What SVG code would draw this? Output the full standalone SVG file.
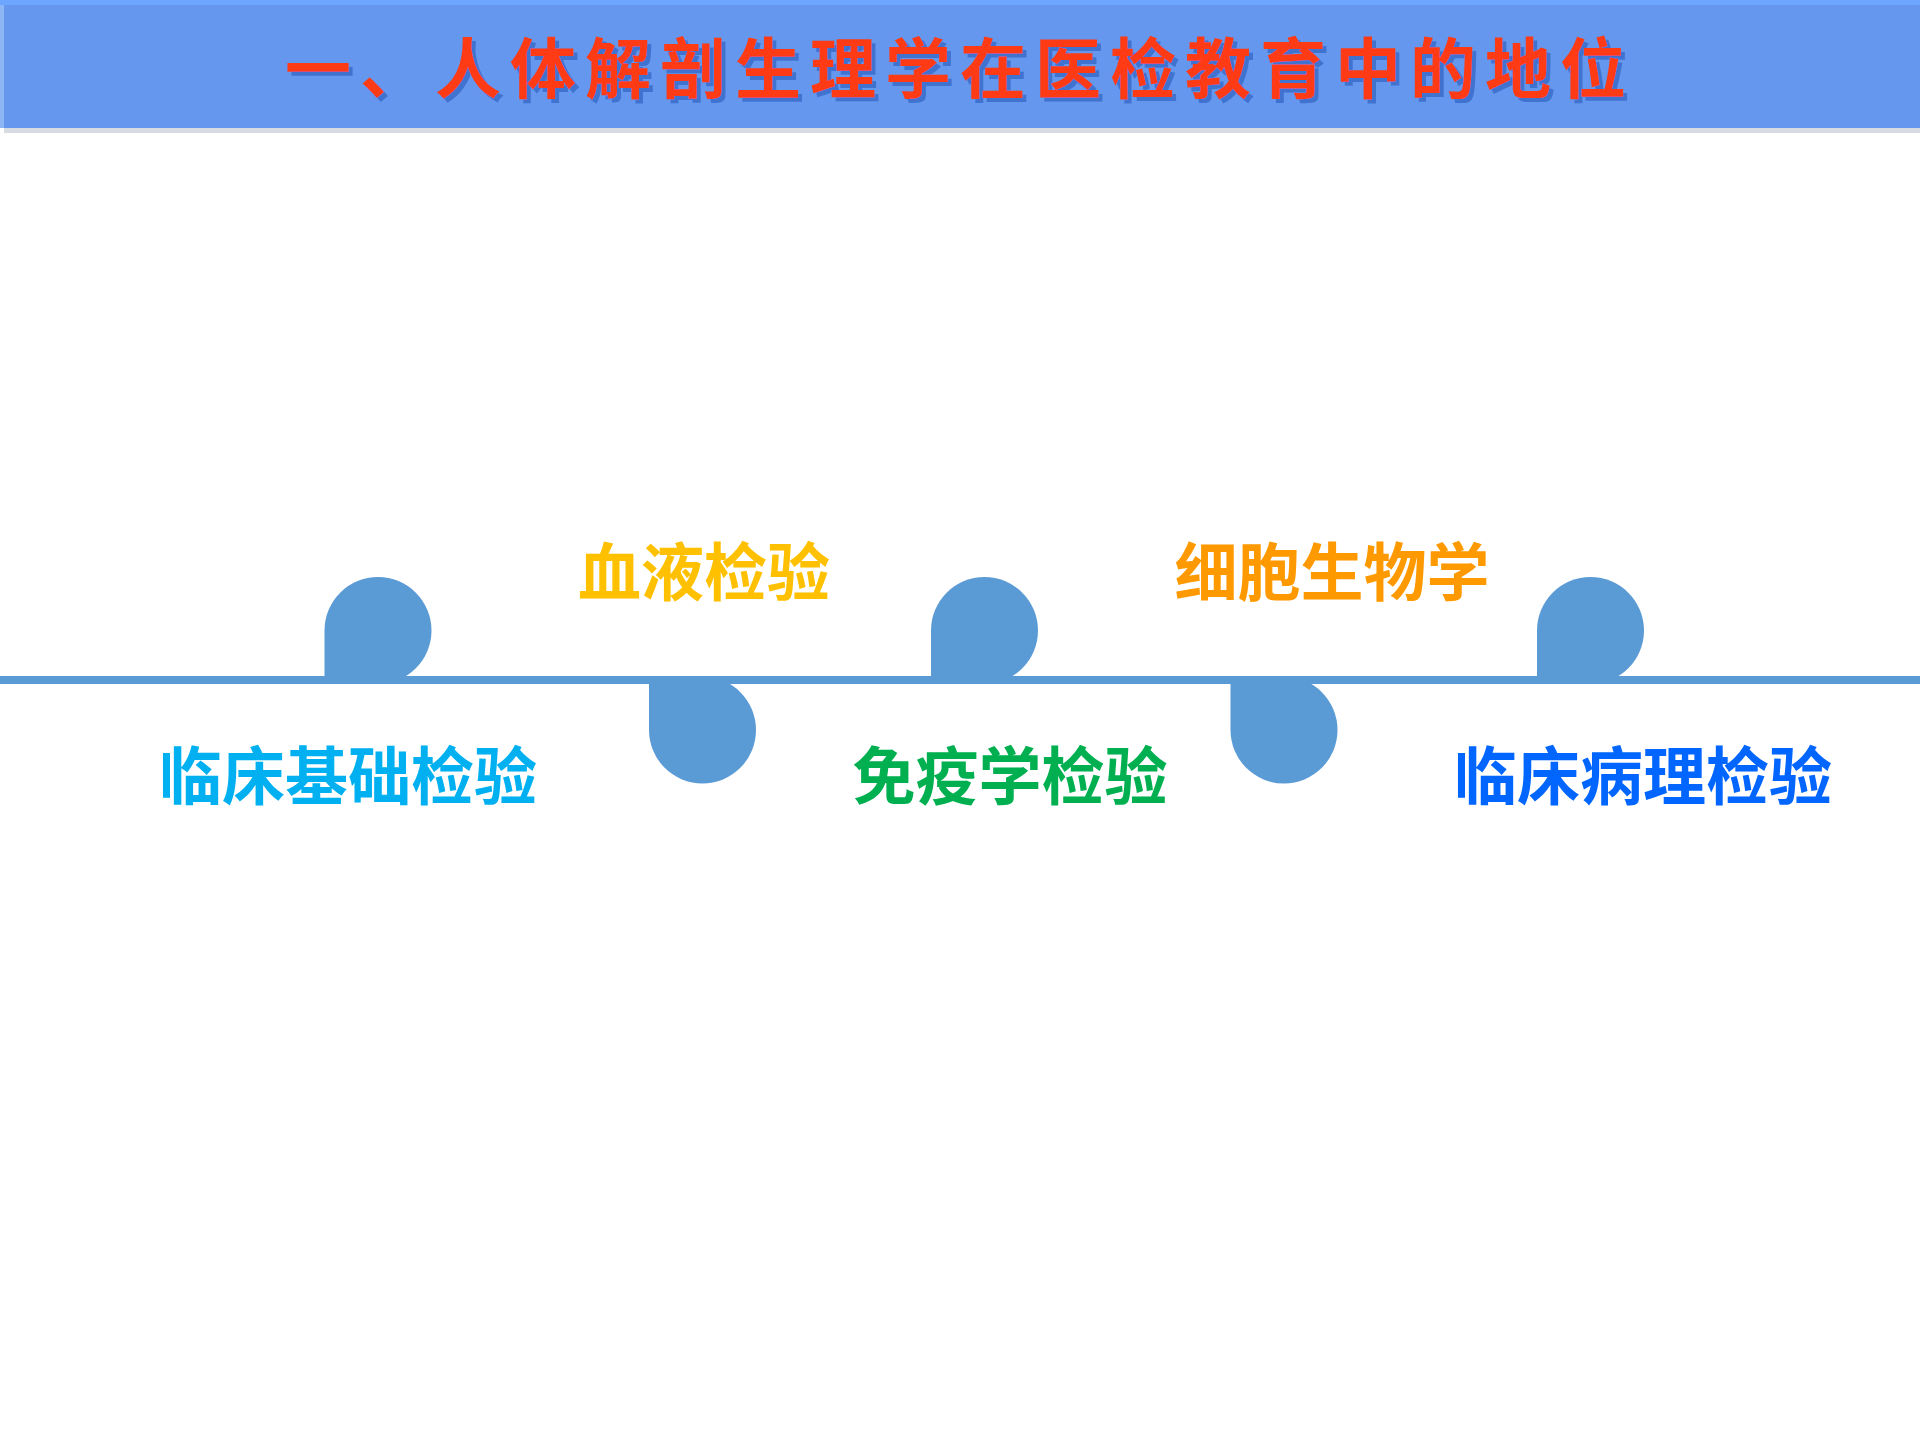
<svg xmlns="http://www.w3.org/2000/svg" width="1920" height="1440" viewBox="0 0 1920 1440">
  <style>
    .title { font-family: "Noto Sans CJK SC", "Noto Sans", sans-serif; font-size: 66px; font-weight: 700; letter-spacing: 9px; }
    .lbl { font-family: "Noto Sans CJK SC", "Noto Sans", sans-serif; font-size: 63px; font-weight: 700; text-anchor: middle; }
    .drop { fill: #5B9BD5; }
  </style>
  <defs>
    <filter id="titleShadow" x="-5%" y="-30%" width="110%" height="160%">
      <feFlood flood-color="#3F72D0" result="c"/>
      <feComposite in="c" in2="SourceAlpha" operator="in" result="s"/>
      <feOffset in="s" dx="4" dy="4" result="o"/>
      <feMerge>
        <feMergeNode in="o"/>
        <feMergeNode in="SourceGraphic"/>
      </feMerge>
    </filter>
  </defs>
  <rect x="0" y="0" width="1920" height="1440" fill="#FFFFFF"/>
  <g id="header">
    <rect x="0" y="0" width="1920" height="6" fill="#6CA6FF"/>
    <rect x="0" y="5" width="4" height="123" fill="#8DB6F4"/>
    <rect x="4" y="5" width="1916" height="123" fill="#6497ED"/>
    <rect x="4" y="128" width="1916" height="5" fill="#D6DCE2"/>
    <text class="title" x="960" y="93" text-anchor="middle" fill="#FF3A12" filter="url(#titleShadow)">一、人体解剖生理学在医检教育中的地位</text>
  </g>
  <g id="connectors">
    <rect x="0" y="676" width="1920" height="8" fill="#5B9BD5"/>
  </g>
  <g id="drop-top-1"><path class="drop" d="M324.5,684 V630.5 A53.5,53.5 0 1 1 378,684 Z"/></g>
  <g id="drop-bottom-1"><path class="drop" d="M649,676.5 H702.5 A53.5,53.5 0 1 1 649,730 Z"/></g>
  <g id="drop-top-2"><path class="drop" d="M931,684 V630.5 A53.5,53.5 0 1 1 984.5,684 Z"/></g>
  <g id="drop-bottom-2"><path class="drop" d="M1230.5,676.5 H1284 A53.5,53.5 0 1 1 1230.5,730 Z"/></g>
  <g id="drop-top-3"><path class="drop" d="M1537,684 V630.5 A53.5,53.5 0 1 1 1590.5,684 Z"/></g>
  <g id="node-clinical-basic"><text class="lbl" x="348" y="799" fill="#00B0F0">临床基础检验</text></g>
  <g id="node-hematology"><text class="lbl" x="704" y="595" fill="#FFC000">血液检验</text></g>
  <g id="node-immunology"><text class="lbl" x="1010" y="799" fill="#00B050">免疫学检验</text></g>
  <g id="node-cell-biology"><text class="lbl" x="1332" y="595" fill="#FF9900">细胞生物学</text></g>
  <g id="node-clinical-pathology"><text class="lbl" x="1643" y="799" fill="#0066FF">临床病理检验</text></g>
</svg>
